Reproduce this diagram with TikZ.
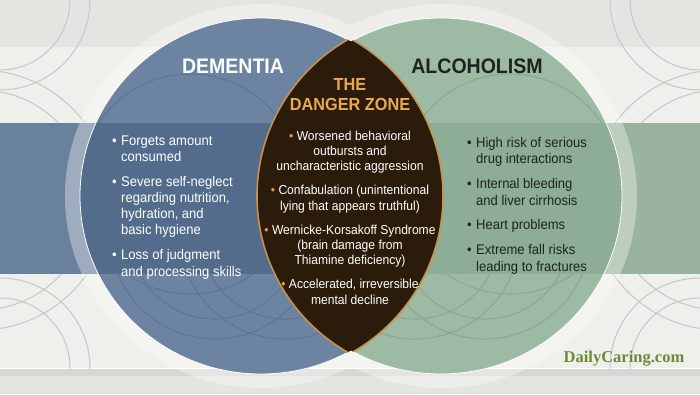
\documentclass[tikz,border=0pt]{standalone}
\usepackage{fontspec}
\setmainfont{Liberation Sans}[FakeStretch=0.93]
\newfontfamily\logofont{Liberation Serif}
\definecolor{bggrey}{HTML}{E5E4E0}
\definecolor{cardwhite}{HTML}{EFEFEB}
\definecolor{demblue}{HTML}{6C84A1}
\definecolor{demband}{HTML}{536C8C}
\definecolor{demarc}{HTML}{5E7695}
\definecolor{bandblue}{HTML}{6A819C}
\definecolor{alcgreen}{HTML}{9DBAA4}
\definecolor{alcband}{HTML}{8EAD96}
\definecolor{alcarc}{HTML}{8AA892}
\definecolor{bandgreen}{HTML}{9AB39F}
\definecolor{zonebrown}{HTML}{2A1B0B}
\definecolor{zonegold}{HTML}{C8924E}
\definecolor{zonetitle}{HTML}{EAA94F}
\definecolor{zonebullet}{HTML}{E39A45}
\definecolor{alctext}{HTML}{1C2420}
\definecolor{logogreen}{HTML}{6B8B3A}
\definecolor{decoarc}{HTML}{C3C6CB}
\tikzset{
  title/.style={font=\fontsize{21}{24}\selectfont\bfseries, inner sep=0pt},
  listtext/.style={font=\fontsize{14}{16.2}\selectfont, align=left, inner sep=0pt, anchor=base west},
  zonetext/.style={font=\fontsize{13}{15.3}\selectfont, align=center, inner sep=0pt, text=white, anchor=base},
  deco/.style={decoarc, line width=1pt},
  innerarc/.style={line width=1.1pt},
  venn/.style={x radius=181, y radius=178},
}
\newcommand{\bul}{\makebox[9pt][l]{\textbullet}}
\newcommand{\ind}{\hspace*{9pt}}
\newcommand{\zbul}{\textcolor{zonebullet}{\textbullet}\ }
\begin{document}
\begin{tikzpicture}[x=1pt,y=1pt]
\useasboundingbox (0,0) rectangle (700,394);
\coordinate (dem) at (261,198);
\coordinate (alc) at (441,198);
\coordinate (lensl) at (263,198);
\coordinate (lensr) at (437,198);
% background and card
\fill[bggrey] (0,0) rectangle (700,394);
\fill[black,opacity=.06] (0,18) rectangle (700,26);
\fill[cardwhite] (0,26) rectangle (700,347);
\draw[white,line width=.8pt] (0,26) -- (700,26);
% corner arcs
\begin{scope}
\clip (0,26) rectangle (700,394);
\foreach \r in {70,90} {
  \draw[deco] (0,394) circle[radius=\r];
  \draw[deco] (700,394) circle[radius=\r];
  \draw[deco] (0,26) circle[radius=\r];
  \draw[deco] (700,26) circle[radius=\r];
}
\foreach \r in {110,130} {
  \draw[deco] (-20,194) circle[radius=\r];
  \draw[deco] (720,194) circle[radius=\r];
}
\end{scope}
% side bands
\fill[bandblue] (0,120) rectangle (350,271);
\fill[bandgreen] (350,120) rectangle (700,271);
% halos and circles
\fill[white,opacity=.35] (dem) ellipse[x radius=196, y radius=192] (alc) ellipse[x radius=196, y radius=192];
\fill[demblue] (dem) ellipse[venn];
\fill[alcgreen] (alc) ellipse[venn];
\begin{scope}
\clip (dem) ellipse[venn];
\foreach \r in {85,105} {
  \draw[innerarc,demarc] (215,160) circle[radius=\r];
  \draw[innerarc,demarc] (285,160) circle[radius=\r];
}
\draw[innerarc,demarc] (190,210) circle[radius=110];
\fill[demband] (0,120) rectangle (700,271);
\end{scope}
\begin{scope}
\clip (alc) ellipse[venn];
\foreach \r in {85,105} {
  \draw[innerarc,alcarc] (485,160) circle[radius=\r];
  \draw[innerarc,alcarc] (415,160) circle[radius=\r];
}
\draw[innerarc,alcarc] (510,210) circle[radius=110];
\fill[alcband] (0,120) rectangle (700,271);
\end{scope}
\draw[white,line width=.8pt] (dem) ellipse[venn] (alc) ellipse[venn];
% danger zone lens
\begin{scope}
\clip (dem) ellipse[venn] (alc) ellipse[venn];
\begin{scope}
\clip (lensl) circle[radius=180];
\fill[zonebrown] (lensr) circle[radius=180];
\draw[zonegold,line width=1.6pt] (lensr) circle[radius=180];
\end{scope}
\begin{scope}
\clip (lensr) circle[radius=180];
\draw[zonegold,line width=1.6pt] (lensl) circle[radius=180];
\end{scope}
\end{scope}
% titles
\node[title,text=white] (dementia) at (233,328) {DEMENTIA};
\node[title,text=alctext] (alcoholism) at (477,328) {ALCOHOLISM};
\node[font=\fontsize{17.5}{20}\selectfont\bfseries, text=zonetitle, align=center, inner sep=0pt] (zone) at (350,299) {THE\\DANGER ZONE};
% lists (base anchor sits on the last line)
\node[listtext,text=white] (demlist) at (112,118) {\bul Forgets amount\\\ind consumed\\[8.7pt]
  \bul Severe self-neglect\\\ind regarding nutrition,\\\ind hydration, and\\\ind basic hygiene\\[8.7pt]
  \bul Loss of judgment\\\ind and processing skills};
\node[listtext,text=alctext] (alclist) at (467,123) {\bul High risk of serious\\\ind drug interactions\\[8.7pt]
  \bul Internal bleeding\\\ind and liver cirrhosis\\[8.7pt]
  \bul Heart problems\\[8.7pt]
  \bul Extreme fall risks\\\ind leading to fractures};
\node[zonetext] (zonelist) at (350,90) {\zbul Worsened behavioral\\outbursts and\\uncharacteristic aggression\\[8.7pt]
  \zbul Confabulation (unintentional\\lying that appears truthful)\\[8.7pt]
  \zbul Wernicke-Korsakoff Syndrome\\(brain damage from\\Thiamine deficiency)\\[8.7pt]
  \zbul Accelerated, irreversible\\mental decline};
% logo
\node[font=\logofont\fontsize{16.5}{18}\selectfont\bfseries, text=logogreen, anchor=base, inner sep=0pt] (logo) at (624,32) {DailyCaring.com};
\end{tikzpicture}
\end{document}
